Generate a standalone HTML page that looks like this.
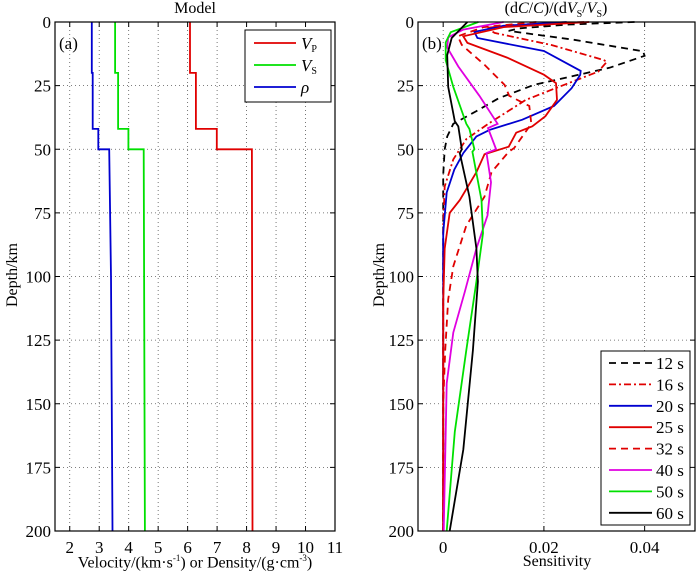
<!DOCTYPE html>
<html><head><meta charset="utf-8"><style>
body{margin:0;background:#fff}
svg{display:block;font-family:"Liberation Serif",serif}
</style></head><body>
<svg id="chart" width="700" height="577" viewBox="0 0 700 577"></svg>
<script>
// ---- Model panel data ----
const rhoDepth=[0,20,20,42,42,50,50,100,200];
const rhoVal=[2.75,2.75,2.78,2.78,2.97,2.97,3.34,3.40,3.45];
const vsDepth=[0,20,20,42,42,50,50,200];
const vsVal=[3.54,3.54,3.64,3.64,3.99,3.99,4.51,4.55];
const vpDepth=[0,20,20,42,42,50,50,200];
const vpVal=[6.08,6.08,6.28,6.28,6.99,6.99,8.18,8.20];
const xTicksA=[2,3,4,5,6,7,8,9,10,11];
const yTicks=[0,25,50,75,100,125,150,175,200];
// ---- Sensitivity data (depth, value) ----
const periods=["12 s","16 s","20 s","25 s","32 s","40 s","50 s","60 s"];
const d12=[0,1,2.5,3.5,7,11.5,13.3,18,24.7,30,35,40,45,50,60,200];
const s12=[0.038,0.025,0.015,0.013,0.026,0.0397,0.040,0.033,0.018,0.011,0.0066,0.002,0.0008,0.0003,0,0];
const d16=[0,1,2.3,4.3,9,14.9,15.6,19.5,26,30.6,39.7,46,54,64.6,80,200];
const s16=[0.028,0.015,0.0086,0.0102,0.0214,0.0318,0.0325,0.0308,0.0223,0.0164,0.0092,0.0046,0.002,0.0003,0,0];
const d20=[0,1.5,3.9,6.3,11.4,19.2,20.8,26,33,38.4,42.4,45,51.5,58,67,83,200];
const s20=[0.0245,0.012,0.0062,0.0068,0.02,0.0273,0.0272,0.0255,0.022,0.0157,0.0092,0.0066,0.004,0.0022,0.0007,0,0];
const d25=[0,2,5.6,8.2,14,20.7,24,30.6,37,41,43.5,49,52,59,70,75,89,110,200];
const s25=[0.029,0.012,0.004,0.0048,0.0127,0.02,0.0224,0.0226,0.0203,0.0177,0.0145,0.013,0.0082,0.0066,0.0033,0.0013,0.0003,0,0];
const d32=[0,2,5.6,9,16.8,24.7,29,33,40,49.5,51,59,68.6,80,96,109,129,150,200];
const s32=[0.0185,0.008,0.0029,0.0037,0.0082,0.0122,0.0131,0.0171,0.0175,0.0141,0.013,0.0096,0.0082,0.0046,0.002,0.001,0.0004,0,0];
const d40=[0,3,6,10,17.5,29,40,41.7,50,51.5,63,76,89,106,122,142,200];
const s40=[0.012,0.004,0.001,0.0008,0.003,0.0072,0.0108,0.0089,0.0105,0.0086,0.0095,0.0088,0.0066,0.0043,0.002,0.0007,0.0001];
const d50=[0,4,8,15,25.5,40,42,50,51,70,83,102,129,161,200];
const s50=[0.007,0.0015,0.0005,0.0005,0.002,0.0046,0.0052,0.0062,0.0058,0.0076,0.0079,0.0066,0.0046,0.0023,0.0007];
const d60=[0,6.3,13,25.5,39,41,50,51.5,68.6,89,102,129,168,200];
const s60=[0.0048,0.0017,0.0008,0.001,0.0023,0.003,0.0037,0.0033,0.0052,0.0066,0.0069,0.0059,0.004,0.0013];
const xTicksB=[0,0.02,0.04];
const xTickLabB=["0","0.02","0.04"];

const NS="http://www.w3.org/2000/svg";
const svg=document.getElementById("chart");
function mk(tag,attrs,parent){const e=document.createElementNS(NS,tag);for(const k in attrs)e.setAttribute(k,attrs[k]);(parent||svg).appendChild(e);return e;}
const Y0=22,Y1=531;
const yS=d=>Y0+(d/200)*(Y1-Y0);
const A={l:55,r:335,min:1.5,max:11};
const B={l:418,r:695,min:-0.005,max:0.05};
const xA=v=>A.l+(v-A.min)/(A.max-A.min)*(A.r-A.l);
const xB=v=>B.l+(v-B.min)/(B.max-B.min)*(B.r-B.l);

function panel(P,xs,xTicks,xLabels,name){
  const g=mk("g",{});
  
  
  xTicks.forEach((t,i)=>{
    const x=xs(t);
    const gl=mk("line",{x1:x,x2:x,y1:Y0,y2:Y1,stroke:"#555","stroke-width":0.8,"stroke-dasharray":"1,3"},g);
    
    
    mk("line",{x1:x,x2:x,y1:Y1,y2:Y1-5,stroke:"#000"},g);
    mk("line",{x1:x,x2:x,y1:Y0,y2:Y0+5,stroke:"#000"},g);
    const tl=mk("text",{x:x,y:Y1+22,"font-size":17,"text-anchor":"middle"},g);
    tl.textContent=xLabels[i];
    
    
  });
  yTicks.forEach(t=>{
    const y=yS(t);
    const gl=mk("line",{x1:P.l,x2:P.r,y1:y,y2:y,stroke:"#555","stroke-width":0.8,"stroke-dasharray":"1,3"},g);
    
    
    mk("line",{x1:P.l,x2:P.l+5,y1:y,y2:y,stroke:"#000"},g);
    mk("line",{x1:P.r,x2:P.r-5,y1:y,y2:y,stroke:"#000"},g);
    const tl=mk("text",{x:P.l-4,y:y+6,"font-size":17,"text-anchor":"end"},g);
    tl.textContent=String(t);
    
    
  });
  return g;
}
panel(A,xA,xTicksA,xTicksA.map(String),"model-panel");
panel(B,xB,xTicksB,xTickLabB,"sensitivity-panel");

function series(ds,vs,xs,color,dash,name){
  const pts=ds.map((d,i)=>xs(vs[i]).toFixed(1)+","+yS(d).toFixed(1)).join(" ");
  const p=mk("polyline",{points:pts,fill:"none",stroke:color,"stroke-width":1.8});
  if(dash)p.setAttribute("stroke-dasharray",dash);
  
  
}
series(vpDepth,vpVal,xA,"#e00000",null,"vp-line");
series(vsDepth,vsVal,xA,"#00e000",null,"vs-line");
series(rhoDepth,rhoVal,xA,"#0000d0",null,"rho-line");

const sD=[d12,d16,d20,d25,d32,d40,d50,d60];
const sV=[s12,s16,s20,s25,s32,s40,s50,s60];
const sCol=["#000","#e00000","#0000d0","#e00000","#e00000","#e000e0","#00e000","#000"];
const sDash=["7,5","7,3,2,3",null,null,"7,5",null,null,null];
sD.forEach((d,i)=>series(d,sV[i],xB,sCol[i],sDash[i],"sensitivity-"+periods[i].replace(" ","")));

[A,B].forEach((P,i)=>{
  const r=mk("rect",{x:P.l,y:Y0,width:P.r-P.l,height:Y1-Y0,fill:"none",stroke:"#000","stroke-width":1.2});
  
  
});

const lgA=mk("g",{});


mk("rect",{x:245,y:30,width:86,height:72,fill:"#fff",stroke:"#000"},lgA);
[["#e00000","V","P",43],["#00e000","V","S",65],["#0000d0","ρ","",87]].forEach(e=>{
  mk("line",{x1:254,x2:296,y1:e[3],y2:e[3],stroke:e[0],"stroke-width":1.8},lgA);
  const t=mk("text",{x:301,y:e[3]+6,"font-size":17,"font-style":"italic"},lgA);
  t.textContent=e[1];
  if(e[2]){const s=mk("tspan",{"font-size":10,"font-style":"normal",dy:3},t);s.textContent=e[2];}
});
const lgB=mk("g",{});


mk("rect",{x:601,y:351,width:89,height:174,fill:"#fff",stroke:"#000"},lgB);
periods.forEach((p,i)=>{
  const y=363+i*21.4;
  const l=mk("line",{x1:609,x2:652,y1:y,y2:y,stroke:sCol[i],"stroke-width":1.8},lgB);
  if(sDash[i])l.setAttribute("stroke-dasharray",sDash[i]);
  const t=mk("text",{x:656,y:y+6,"font-size":17},lgB);
  t.textContent=p;
  
  
});
</script>
<div style="position:absolute;left:0;top:0;width:700px;height:577px;pointer-events:none;font-family:'Liberation Serif',serif">
<div style="position:absolute;left:145px;top:0px;width:100px;text-align:center;font-size:16px">Model</div>
<div style="position:absolute;left:456px;top:0px;width:200px;text-align:center;font-size:16px">(d<i>C</i>/<i>C</i>)/(d<i>V</i><sub style="font-size:10px">S</sub>/<i>V</i><sub style="font-size:10px">S</sub>)</div>
<div style="position:absolute;left:59px;top:34px;font-size:17px">(a)</div>
<div style="position:absolute;left:422px;top:34px;font-size:17px">(b)</div>
<div style="position:absolute;left:35px;top:553px;width:320px;text-align:center;font-size:16px">Velocity/(km·s<sup style="font-size:9px">-1</sup>) or Density/(g·cm<sup style="font-size:9px">-3</sup>)</div>
<div style="position:absolute;left:457px;top:553px;width:200px;text-align:center;font-size:16px">Sensitivity</div>
<div style="position:absolute;left:-37px;top:266px;width:100px;text-align:center;font-size:16px;transform:rotate(-90deg)">Depth/km</div>
<div style="position:absolute;left:330px;top:266px;width:100px;text-align:center;font-size:16px;transform:rotate(-90deg)">Depth/km</div>
</div>
</body></html>
